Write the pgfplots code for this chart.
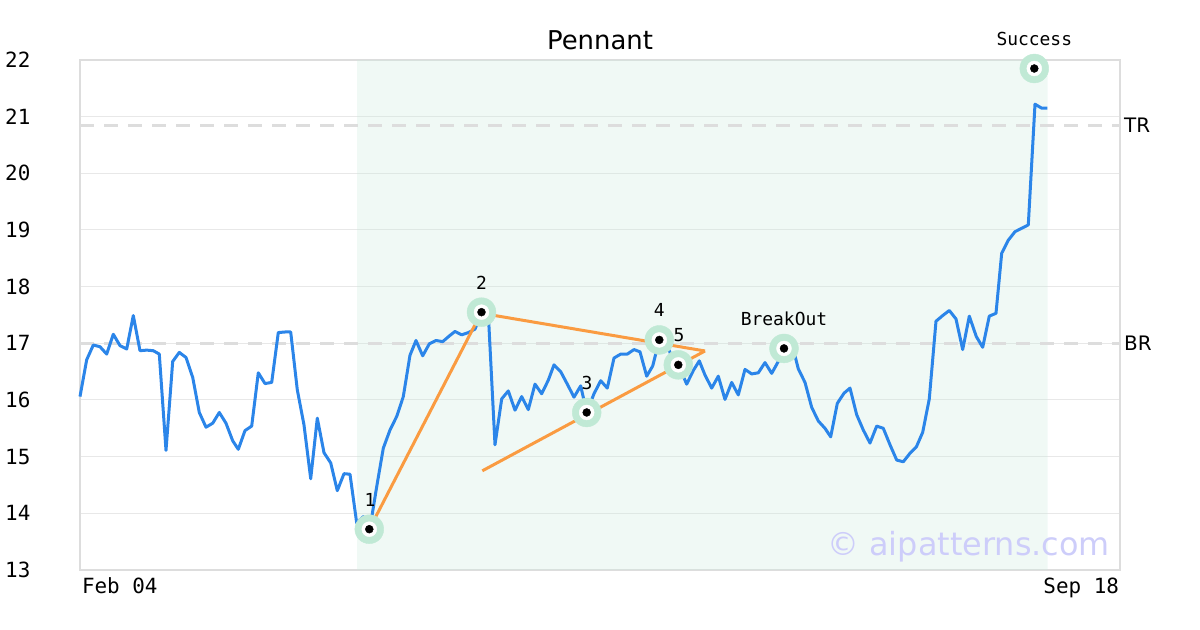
\documentclass[border=0pt]{standalone}
\usepackage{fontspec}
\setmainfont{DejaVu Sans}
\newfontfamily\mono{DejaVu Sans Mono}
\usepackage{pgfplots}
\pgfplotsset{compat=1.18}
\definecolor{lineblue}{RGB}{43,133,233}
\definecolor{orng}{RGB}{250,155,65}
\definecolor{halo}{RGB}{192,233,213}
\definecolor{shadebase}{RGB}{205,235,222}
\definecolor{framecol}{RGB}{221,221,221}
\definecolor{gridcol}{RGB}{232,232,232}
\definecolor{wm}{RGB}{205,205,250}
\begin{document}
\begin{tikzpicture}
\useasboundingbox (0bp,0bp) rectangle (1200bp,630bp);
\begin{axis}[
  at={(80bp,60bp)}, anchor=south west,
  width=1040bp, height=510bp, scale only axis,
  xmin=80, xmax=1120, ymin=13, ymax=22,
  ytick={13,14,...,22},
  xtick={80,1120},
  xticklabels={\makebox[0pt][l]{\hspace{2bp}Feb 04},\makebox[0pt][r]{Sep 18\hspace{1bp}}},
  major tick length=0pt,
  ymajorgrids,
  grid style={gridcol, line width=1bp},
  axis line style={framecol, line width=2bp},
  clip=false,
  tick label style={font=\mono\fontsize{21}{21}\selectfont},
  /pgf/number format/assume math mode=true,
  yticklabel style={anchor=west, xshift=-75bp, inner sep=0pt},
  xticklabel style={anchor=north, yshift=-4bp},
]
% pattern region
\addplot[fill=shadebase, fill opacity=0.3, draw=none] coordinates {(357,13) (1047.5,13) (1047.5,22) (357,22)} \closedcycle;
% TR / BR
\addplot[framecol, line width=3bp, dash pattern=on 14bp off 10bp] coordinates {(80,20.84) (1120,20.84)};
\addplot[framecol, line width=3bp, dash pattern=on 14bp off 10bp] coordinates {(80,17.0) (1120,17.0)};
% halos
\addplot[halo, only marks, mark=*, mark size=14.5pt, mark options={draw=halo, fill=halo}] coordinates {
(369.3,13.72) (481.5,17.55) (586.7,15.78) (659.3,17.06) (678.3,16.62) (784,16.91) (1034.3,21.85)};
% price
\addplot[lineblue, line width=3bp, line join=round, mark=none] coordinates {
(80,16.06) (86.7,16.71) (93.3,16.97) (100,16.94) (106.7,16.81) (113.3,17.16) (120,16.96) (126.7,16.90)
(133.3,17.49) (140,16.87) (146.7,16.88) (153.3,16.87) (159.3,16.81) (166,15.11) (172.7,16.68) (179.3,16.84)
(186,16.75) (192.7,16.40) (199.3,15.78) (206,15.52) (212.7,15.59) (219.3,15.78) (226,15.59) (232.7,15.28)
(238.3,15.13) (245,15.46) (251.7,15.54) (258.3,16.48) (265,16.29) (271.7,16.31) (278.3,17.19) (285,17.20)
(290.7,17.20) (297.3,16.18) (304,15.56) (310.7,14.61) (317.3,15.68) (324,15.07) (330.7,14.89) (337.3,14.40)
(344,14.70) (350,14.69) (356.7,13.83) (363.3,13.94) (367.3,13.85) (370,13.74) (376.7,14.47) (383.3,15.15)
(390,15.47) (396.7,15.71) (403.3,16.06) (410,16.79) (416,17.05) (422.7,16.78) (429.3,16.99) (436,17.05)
(442.7,17.03) (449.3,17.13) (455,17.21) (461.7,17.15) (468.3,17.19) (475,17.25) (481.7,17.54) (488.3,17.53)
(495,15.21) (501.7,16.02) (508.3,16.16) (515,15.82) (521.7,16.06) (528.3,15.83) (535,16.28) (541.7,16.11)
(548.3,16.35) (554,16.62) (560.7,16.50) (567.3,16.28) (574,16.05) (580.7,16.25) (586.7,15.78) (594,16.11)
(600.7,16.34) (607.3,16.21) (614,16.74) (620.7,16.81) (627.3,16.81) (634,16.89) (640,16.85) (646.7,16.42)
(652.7,16.60) (659.3,17.06) (666.7,16.97) (673.3,16.71) (678.3,16.62) (686.7,16.28) (693.3,16.52) (699.3,16.69)
(705,16.44) (711.7,16.21) (718.3,16.42) (725,16.01) (731.7,16.31) (738.3,16.09) (745,16.54) (751.7,16.46)
(758.3,16.48) (765,16.66) (771.7,16.47) (778.3,16.68) (785,16.91) (791.7,17.01) (798.3,16.55) (805,16.31)
(811.7,15.87) (818.3,15.63) (825,15.50) (830.7,15.35) (837.3,15.94) (844,16.12) (850,16.21) (856.7,15.74)
(863.3,15.47) (870,15.24) (876.7,15.54) (883.3,15.50) (890,15.21) (896.7,14.94) (903.3,14.91) (910,15.06)
(916.3,15.17) (922.7,15.43) (929.3,16.02) (936,17.39) (942.7,17.49) (949.3,17.58) (956,17.43) (962.7,16.89)
(969.3,17.48) (976.3,17.12) (982.7,16.93) (989.3,17.48) (996,17.53) (1001.7,18.59) (1008.3,18.82) (1015,18.97)
(1021.7,19.03) (1028.3,19.09) (1035,21.22) (1041.7,21.15) (1047.3,21.15)
};
% pennant lines
\addplot[orng, line width=3bp] coordinates {(369.3,13.72) (481.5,17.55)};
\addplot[orng, line width=3bp] coordinates {(481.5,17.53) (705,16.865)};
\addplot[orng, line width=3bp] coordinates {(482.3,14.75) (705,16.865)};
% markers
\addplot[white, only marks, mark=*, mark size=7.5pt, mark options={draw=white, fill=white}] coordinates {
(369.3,13.72) (481.5,17.55) (586.7,15.78) (659.3,17.06) (678.3,16.62) (784,16.91) (1034.3,21.85)};
\addplot[black, only marks, mark=*, mark size=4pt, mark options={draw=black, fill=black}] coordinates {
(369.3,13.72) (481.5,17.55) (586.7,15.78) (659.3,17.06) (678.3,16.62) (784,16.91) (1034.3,21.85)};
% labels
\begin{scope}[every node/.style={anchor=base, font=\mono\fontsize{18}{18}\selectfont, inner sep=0pt, yshift=23bp}]
\node at (axis cs:370,13.72) {1};
\node at (axis cs:481.5,17.55) {2};
\node at (axis cs:587,15.78) {3};
\node at (axis cs:659.3,17.06) {4};
\node at (axis cs:679,16.62) {5};
\node at (axis cs:784,16.91) {BreakOut};
\node at (axis cs:1034.3,21.85) {Success};
\end{scope}
\node[anchor=west, inner sep=0pt, font=\fontsize{20}{20}\selectfont] at (axis cs:1124,20.84) {TR};
\node[anchor=west, inner sep=0pt, font=\fontsize{20}{20}\selectfont] at (axis cs:1124,17.0) {BR};
\node[anchor=base east, inner sep=0pt, text=wm, font=\fontsize{32}{32}\selectfont] at (axis cs:1110,13.25) {© aipatterns.com};
\node[anchor=base, inner sep=0pt, yshift=10bp, font=\fontsize{26}{26}\selectfont] at (rel axis cs:0.5,1) {Pennant};
\end{axis}
\end{tikzpicture}
\end{document}
